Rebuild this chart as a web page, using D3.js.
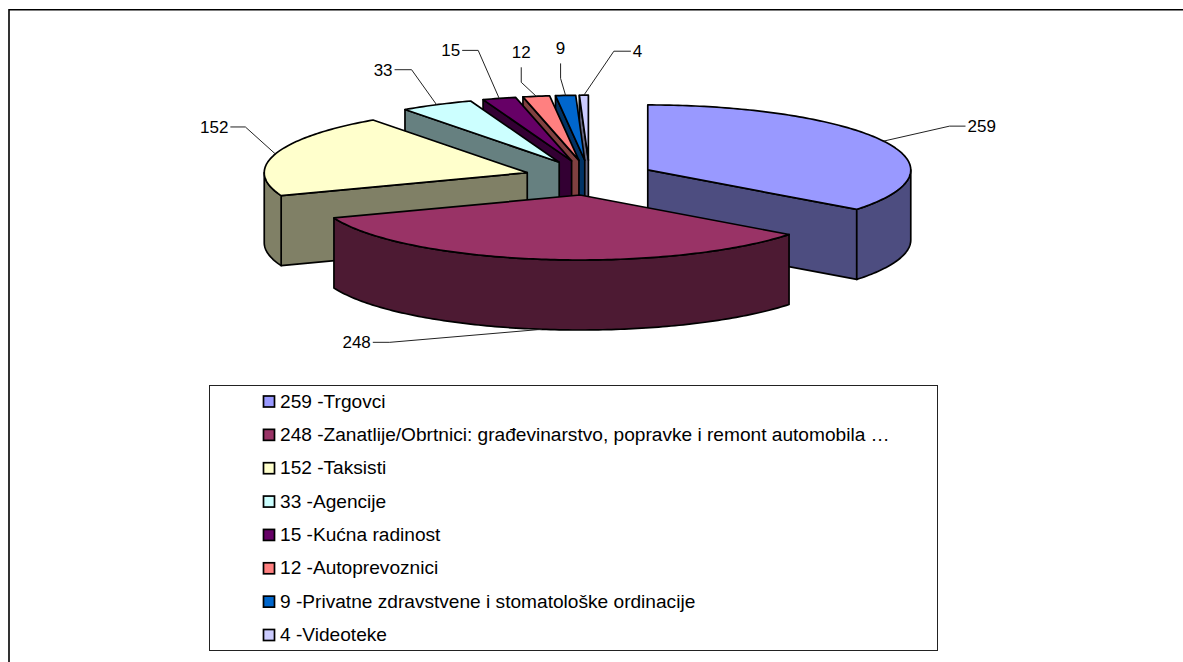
<!DOCTYPE html>
<html><head><meta charset="utf-8">
<style>html,body{margin:0;padding:0;background:#fff}svg{display:block}text{font-family:"Liberation Sans",Arial,sans-serif;fill:#000}</style>
<script src="https://d3js.org/d3.v7.min.js"></script></head>
<body><svg id="c" width="1183" height="662"></svg>
<script>
const values = [259, 248, 152, 33, 15, 12, 9, 4];
const categories = ["Trgovci","Zanatlije/Obrtnici: građevinarstvo, popravke i remont automobila …","Taksisti","Agencije","Kućna radinost","Autoprevoznici","Privatne zdravstvene i stomatološke ordinacije","Videoteke"];
const colours = ["#9999FF","#993366","#FFFFCC","#CCFFFF","#660066","#FF8080","#0066CC","#CCCCFF"];
// Layout: leader-line elbow and end offsets, per slice
const leaderElbows = [[66,-15,16,0],[-152,13,-17,0],[-30,-27,-15,0],[-25,-35,-17,0],[-21,-48,-16,0],[-15,-14,0,-15],[-5,-17,0,-15],[30,-44,17,0]];

const W = 1183, H = 662;
const cx = 589.5, cy = 177.7, Rx = 263, Ry = 65, depth = 70, ex = 65, ey = 17.5;
const svg = d3.select("#c");
const colour = d3.scaleOrdinal(d3.range(values.length), colours);
const shade = c => { const r = d3.rgb(c); return d3.rgb(r.r/2, r.g/2, r.b/2).formatHex(); };

svg.append("path").attr("d",d3.line()([[9,H+5],[9,9.7],[W+5,9.7]])).attr("fill","none").attr("stroke","#000").attr("stroke-width",1.6);

const arcs = d3.pie().sort(null).startAngle(0).endAngle(2*Math.PI)(values).map((d,i)=>{
  const mid = (d.startAngle+d.endAngle)/2;
  return {i, v:d.value, a0:d.startAngle, a1:d.endAngle, mid,
    ax: cx + ex*Math.sin(mid), ay: cy - ey*Math.cos(mid)};
});
const pt = (s,a,z=0)=>[s.ax+Rx*Math.sin(a), s.ay-Ry*Math.cos(a)+z];
const line = d3.line();
const sweep = (s,a,b,z=0)=>{ const n=Math.max(2,Math.ceil((b-a)*60)); return d3.range(n+1).map(k=>pt(s,a+(b-a)*k/n,z)); };

const g = svg.append("g").attr("stroke","#000").attr("stroke-width",1.7).attr("stroke-linejoin","round");
const drawOrder = [7,6,5,4,3,2,0,1];
drawOrder.forEach(i=>{
  const s = arcs[i], col = colour(i), dark = shade(col);
  const face = a => { const p = pt(s,a); const A=[s.ax,s.ay];
    g.append("path").attr("fill",dark).attr("d",line([A,p,[p[0],p[1]+depth],[A[0],A[1]+depth]])+"Z"); };
  if (s.a0 > Math.PI && s.a0 < 2*Math.PI) face(s.a0);
  if (s.a1 > 0 && s.a1 < Math.PI) face(s.a1);
  const lo = Math.max(s.a0, Math.PI/2), hi = Math.min(s.a1, 3*Math.PI/2);
  if (hi > lo) {
    const top = sweep(s,lo,hi), bot = sweep(s,lo,hi,depth).reverse();
    g.append("path").attr("fill",dark).attr("d",line(top.concat(bot))+"Z");
  }
  const rim = sweep(s,s.a0,s.a1);
  g.append("path").attr("fill",col).attr("d",line([[s.ax,s.ay]].concat(rim))+"Z");
});

// Leaders and value labels
const lg = svg.append("g");
arcs.forEach(s=>{
  const inFront = Math.cos(s.mid) < 0 && Math.sin(s.mid) < 0.5;
  const p0 = pt(s,s.mid, inFront ? depth : 0);
  const [dx,dy,ex2,ey2] = leaderElbows[s.i];
  const p1 = [p0[0]+dx,p0[1]+dy], p2=[p1[0]+ex2,p1[1]+ey2];
  lg.append("path").attr("d",line([p0,p1,p2])).attr("fill","none").attr("stroke","#222").attr("stroke-width",1);
  const t = lg.append("text").attr("font-size",17);
  if (ex2>0) t.attr("x",p2[0]+2).attr("y",p2[1]+6).attr("text-anchor","start");
  else if (ex2<0) t.attr("x",p2[0]-2).attr("y",p2[1]+6).attr("text-anchor","end");
  else t.attr("x",p2[0]).attr("y",p2[1]-9).attr("text-anchor","middle");
  t.text(s.v);
});

// Legend
const legX=209.5, legY=385.5, legW=728, legH=265;
svg.append("rect").attr("x",legX).attr("y",legY).attr("width",legW).attr("height",legH).attr("fill","#fff").attr("stroke","#222").attr("stroke-width",1);
const rowY = d3.scalePoint().domain(d3.range(values.length)).range([401.5,635]);
const rows = svg.append("g").selectAll("g").data(values).join("g").attr("transform",(d,i)=>`translate(0,${rowY(i)})`);
rows.append("rect").attr("x",263.5).attr("y",-5.5).attr("width",11).attr("height",11).attr("fill",(d,i)=>colour(i)).attr("stroke","#000").attr("stroke-width",1.7);
rows.append("text").attr("x",280).attr("y",6).attr("font-size",19.12).text((d,i)=>`${d} -${categories[i]}`);
</script></body></html>
